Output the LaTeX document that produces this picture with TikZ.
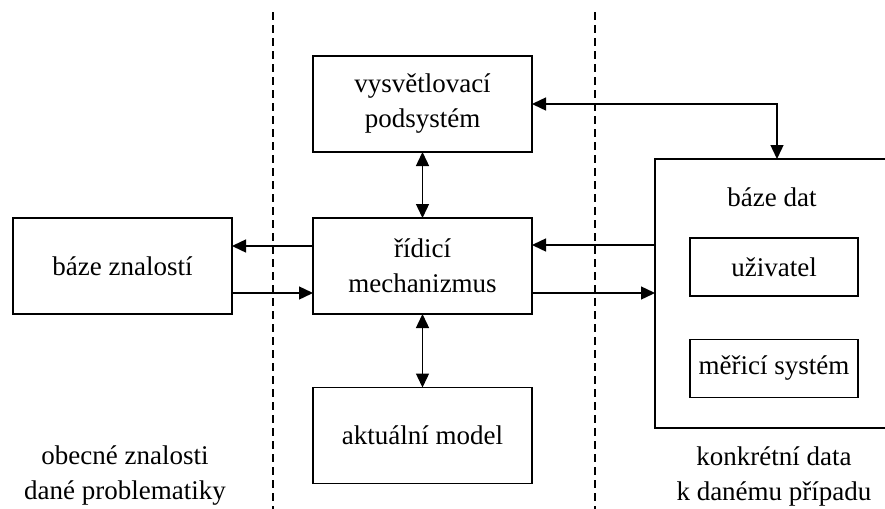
\documentclass[tikz,border=0pt]{standalone}
\usepackage{fontspec}
\setmainfont{Liberation Serif}
\usetikzlibrary{arrows.meta,calc}
\begin{document}
\begin{tikzpicture}[x=0.5pt,y=-0.5pt,
  every node/.style={font=\fontsize{13.5pt}{17.5pt}\selectfont, inner sep=0pt, outer sep=0pt},
  box/.style={draw, line width=0.8pt, align=center, minimum width=109.5pt, minimum height=48pt},
  smallbox/.style={draw, line width=0.8pt, align=center, minimum width=84pt, minimum height=29pt},
  lbl/.style={align=center},
  arr/.style={line width=0.7pt, -{Triangle[length=7pt,width=6.5pt]}},
  arrboth/.style={line width=0.7pt, {Triangle[length=7pt,width=6.5pt]}-{Triangle[length=7pt,width=6.5pt]}},
  sep/.style={line width=0.6pt, dash pattern=on 4pt off 2.5pt}]
\useasboundingbox (0,0) rectangle (885,509);
\fill[white] (0,0) rectangle (885,509);
% dashed separators
\coordinate (d1t) at (273,12); \coordinate (d1b) at (273,509);
\coordinate (d2t) at (595,12); \coordinate (d2b) at (595,509);
\draw[sep] (d1t) -- (d1b);
\draw[sep] (d2t) -- (d2b);
% boxes
\node[box] (vysv) at (422.5,104) {vysvětlovací\\podsystém};
\node[box] (ridici) at (422.5,266) {řídicí\\mechanizmus};
\node[box] (aktual) at (422.5,435.5) {aktuální model};
\node[box] (znal) at (122.5,266) {báze znalostí};
\node[draw, line width=0.8pt, minimum width=122pt, minimum height=134.5pt] (bazedat) at (777,293.5) {};
\node[lbl] (bdt) at (772,197) {báze dat};
\node[smallbox] (uziv) at (774,267) {uživatel};
\node[smallbox] (merici) at (774,368.5) {měřicí systém};
% bottom labels
\node[lbl] (obec) at (125,476) {obecné znalosti\\dané problematiky};
\node[lbl] (konk) at (774,476) {konkrétní data\\k danému případu};
% connectors
\draw[arrboth] (vysv.south) -- (ridici.north);
\draw[arrboth] (ridici.south) -- (aktual.north);
\coordinate (rl1) at ($(ridici.west)+(0,-20)$);
\coordinate (rl2) at ($(ridici.west)+(0,27)$);
\draw[arr] (rl1) -- (rl1 -| znal.east);
\draw[arr] (rl2 -| znal.east) -- (rl2);
\coordinate (rr1) at ($(ridici.east)+(0,-21)$);
\coordinate (rr2) at ($(ridici.east)+(0,27)$);
\draw[arr] (rr1 -| bazedat.west) -- (rr1);
\draw[arr] (rr2) -- (rr2 -| bazedat.west);
\draw[arrboth] (vysv.east) -| (bazedat.north);
\end{tikzpicture}
\end{document}
